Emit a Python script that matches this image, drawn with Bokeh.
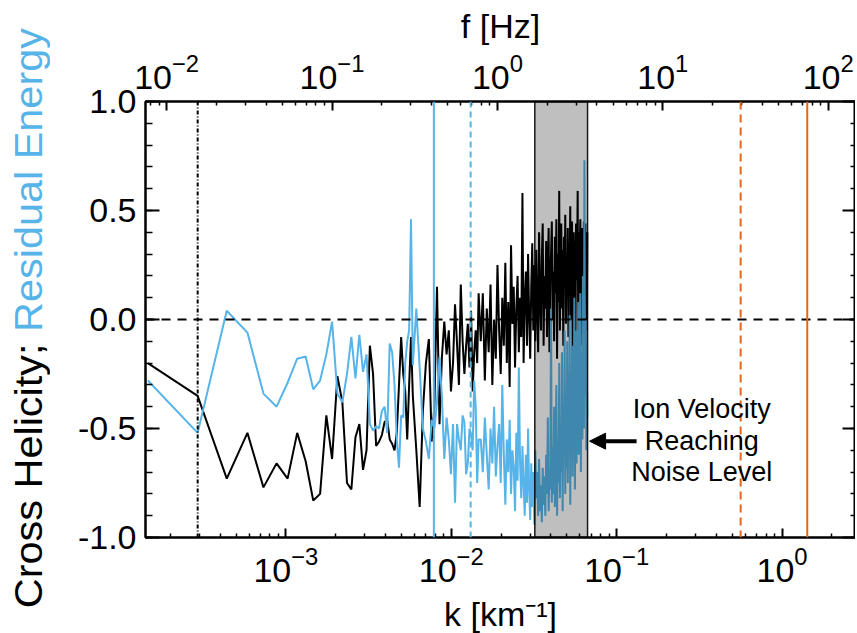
import numpy as np
from bokeh.plotting import figure
from bokeh.layouts import row
from bokeh.models import (Range1d, LogAxis, LinearAxis, FixedTicker, Span, BoxAnnotation,
                          Arrow, NormalHead, Label, CustomJSTickFormatter, Div)
from bokeh.embed import file_html
from bokeh.resources import INLINE

# ---------------- data ----------------
DK = 1.464e-4          # wavenumber resolution [km^-1]
F_PER_K = 52.6         # f [Hz] = F_PER_K * k [km^-1]
K_MIN, K_MAX = 1.417e-4, 2.78

# harmonic indices of the plotted spectral points
N_IDX = np.concatenate([np.arange(1, 41), np.arange(42, 101, 2), np.arange(103, 455, 3)])

cross_helicity_lo = [
    -0.20, -0.35, -0.73, -0.52, -0.77, -0.66, -0.73, -0.52, -0.65, -0.83,
    -0.80, -0.44, -0.64, -0.26, -0.38, -0.75, -0.78, -0.54, -0.48, -0.69,
    -0.60, -0.12, -0.25, -0.58, -0.56, -0.53, -0.47, -0.46, -0.55, -0.57,
    -0.60, -0.52, -0.30, -0.08, -0.25, -0.33, -0.55, -0.30, -0.08, -0.35]
cross_helicity_mid = [
    -0.60, -0.86, -0.42, -0.20, -0.09, -0.56, -0.40, 0.15, -0.48, -0.17,
    -0.01, -0.16, -0.05, -0.33, -0.20, 0.07, -0.11, -0.30, 0.16, -0.10,
    -0.25, -0.12, -0.02, -0.22, 0.04, -0.33, -0.15, -0.05, -0.20, 0.12]
cross_helicity_hi = [
    -0.10, 0.12, -0.28, 0.05, -0.15, 0.16, -0.30, 0.00, -0.18, 0.25,
    -0.05, -0.25, 0.10, -0.12, 0.26, -0.20, 0.08, -0.31, 0.34, -0.02,
    0.15, -0.22, 0.05, 0.20, -0.15, 0.10, -0.08, 0.58, -0.20, 0.10,
    0.22, -0.12, 0.30, 0.02, -0.18, 0.15, 0.35, -0.05, 0.25, -0.10,
    0.32, 0.05, -0.15, 0.40, 0.10, -0.05, 0.28, 0.44, -0.12, 0.20,
    0.05, 0.36, -0.08, 0.25, 0.42, -0.15, 0.18, 0.30, 0.45, 0.00,
    0.22, -0.10, 0.38, 0.12, 0.46, -0.18, 0.30, 0.08, 0.59, -0.05,
    0.25, 0.44, 0.05, 0.32, -0.12, 0.38, 0.15, 0.48, -0.02, 0.28,
    0.10, 0.42, -0.08, 0.35, 0.20, 0.52, 0.00, 0.30, 0.45, -0.15,
    0.22, 0.40, 0.08, 0.36, -0.10, 0.44, 0.18, 0.30, 0.59, -0.05,
    0.40, 0.12, 0.33, 0.46, -0.12, 0.28, 0.42, 0.05, 0.38, 0.20,
    0.45, -0.08, 0.30, 0.44, 0.10, 0.35, -0.05, 0.40]

residual_energy_lo = [
    -0.28, -0.52, 0.04, -0.06, -0.34, -0.40, -0.29, -0.18, -0.17, -0.32,
    -0.28, -0.16, -0.01, -0.34, -0.38, -0.25, -0.08, -0.27, -0.07, -0.24,
    -0.16, -0.48, -0.51, -0.49, -0.50, -0.42, -0.40, -0.52, -0.11, -0.15,
    -0.30, -0.55, -0.68, -0.44, -0.45, -0.20, -0.10, -0.05, 0.46, -0.21]
residual_energy_mid = [
    0.05, -0.22, -0.50, -0.56, -0.64, -0.46, -0.50, -0.38, -0.17, -0.36,
    -0.64, -0.45, -0.55, -0.71, -0.48, -0.84, -0.48, -0.55, -0.60, -0.44,
    -0.47, -0.71, -0.66, -0.50, -0.53, -0.60, -0.28, -0.40, -0.75, -0.55]
residual_energy_hi = [
    -0.55, -0.70, -0.45, -0.62, -0.78, -0.50, -0.66, -0.40, -0.72, -0.58,
    -0.48, -0.75, -0.30, -0.62, -0.85, -0.55, -0.70, -0.46, -0.80, -0.60,
    -0.68, -0.88, -0.52, -0.74, -0.22, -0.66, -0.82, -0.58, -0.76, -0.90,
    -0.62, -0.84, -0.50, -0.78, -0.92, -0.66, -0.86, -0.70, -0.94, -0.60,
    -0.82, -0.70, -0.90, -0.64, -0.88, -0.76, -0.93, -0.68, -0.85, -0.72,
    -0.90, -0.62, -0.80, -0.45, -0.88, -0.70, -0.78, 0.05, -0.84, -0.58,
    -0.80, -0.40, -0.86, -0.66, -0.30, -0.90, -0.55, -0.75, -0.20, -0.82,
    -0.50, -0.70, -0.15, -0.88, -0.45, -0.62, -0.05, -0.80, -0.35, -0.68,
    -0.10, -0.75, -0.40, -0.58, 0.02, -0.85, -0.30, -0.60, -0.12, -0.72,
    -0.25, -0.55, 0.10, -0.78, -0.35, -0.05, -0.66, -0.20, -0.50, 0.08,
    -0.62, -0.28, -0.45, 0.12, -0.70, -0.15, -0.38, -0.55, 0.20, -0.40,
    -0.50, 0.73, -0.10, -0.35, 0.00, -0.60, -0.25, -0.45]

cross_helicity = cross_helicity_lo + cross_helicity_mid + cross_helicity_hi
residual_energy = residual_energy_lo + residual_energy_mid + residual_energy_hi
k_vals = DK * N_IDX

# reference markers (k in km^-1)
K_DASHDOT = 2.93e-4
K_BLUE_SOLID = 7.85e-3
K_BLUE_DASH = 1.31e-2
K_NOISE_BAND = (0.032, 0.0667)
K_ORANGE_DASH = 0.562
K_ORANGE_SOLID = 1.42

X_MAJOR = [1e-3, 1e-2, 1e-1, 1e0]
F_MAJOR = [1e-2, 1e-1, 1e0, 1e1, 1e2]
Y_MAJOR = [-1.0, -0.5, 0.0, 0.5, 1.0]

Y_TITLE_BLACK = "Cross Helicity;"
Y_TITLE_BLUE = "Residual Energy"

BLUE = "#56B4E9"
ORANGE = "#E2691C"
FONT = "Liberation Sans"
TITLE_W = 50
H = 633

def minors(decades):
    return [m * 10.0 ** e for e in decades for m in range(2, 10)]

# ---------------- main figure ----------------
p = figure(x_axis_type="log", x_range=Range1d(K_MIN, K_MAX), y_range=Range1d(-1, 1),
           frame_width=710, frame_height=436,
           min_border_left=145 - TITLE_W, min_border_right=0, min_border_top=101,
           min_border_bottom=95, output_backend="svg", toolbar_location=None)
p.grid.visible = False
p.outline_line_color = "black"
p.outline_line_width = 2
p.background_fill_color = "white"
p.border_fill_color = "white"

p.extra_x_ranges = {"f": Range1d(K_MIN * F_PER_K, K_MAX * F_PER_K)}

def style(ax, maj_in, min_in, fs):
    ax.axis_line_width = 2
    ax.axis_line_color = "black"
    ax.major_tick_in = maj_in
    ax.major_tick_out = 0
    ax.minor_tick_in = min_in
    ax.minor_tick_out = 0
    ax.major_tick_line_width = 2
    ax.minor_tick_line_width = 1.5
    ax.major_label_text_font = FONT
    ax.major_label_text_font_size = fs
    ax.major_label_text_color = "black"
    ax.axis_label_text_font = FONT
    ax.axis_label_text_font_style = "normal"
    ax.axis_label_text_color = "black"

xb = p.xaxis[0]
xb.ticker = FixedTicker(ticks=X_MAJOR, minor_ticks=minors(range(-4, 1)))
style(xb, 9, 4, "34px")
xb.major_label_standoff = 9
xb.axis_label = "k [km⁻¹]"
xb.axis_label_text_font_size = "34px"
xb.axis_label_standoff = 10

yl = p.yaxis[0]
yl.ticker = FixedTicker(ticks=Y_MAJOR, minor_ticks=[round(v, 1) for v in np.arange(-1.0, 1.01, 0.1)])
yl.formatter = CustomJSTickFormatter(code="return tick.toFixed(1);")
style(yl, 14, 7, "34px")
yl.major_label_standoff = 9
yl.axis_label = None

top = LogAxis(x_range_name="f")
top.ticker = FixedTicker(ticks=F_MAJOR, minor_ticks=minors(range(-3, 3)))
style(top, 9, 4, "34px")
top.major_label_standoff = 13
top.axis_label = "f [Hz]"
top.axis_label_text_font_size = "34px"
top.axis_label_standoff = 6
p.add_layout(top, "above")

right = LinearAxis()
right.ticker = FixedTicker(ticks=Y_MAJOR, minor_ticks=[round(v, 1) for v in np.arange(-1.0, 1.01, 0.1)])
right.formatter = CustomJSTickFormatter(code="return '';")
style(right, 13, 5, "0px")
right.major_label_standoff = 0
p.add_layout(right, "right")

# ---------------- data lines ----------------
p.line(k_vals, cross_helicity, line_color="black", line_width=2)
p.line(k_vals, residual_energy, line_color=BLUE, line_width=2)

# ---------------- reference lines ----------------
p.add_layout(Span(location=0, dimension="width", line_color="black", line_width=2, line_dash="9 7"))
p.add_layout(Span(location=K_DASHDOT, dimension="height", line_color="black", line_width=2,
                  line_dash="4 2 1 2"))
p.add_layout(Span(location=K_BLUE_SOLID, dimension="height", line_color=BLUE, line_width=2))
p.add_layout(Span(location=K_BLUE_DASH, dimension="height", line_color=BLUE, line_width=2,
                  line_dash="6 4"))
p.add_layout(Span(location=K_ORANGE_DASH, dimension="height", line_color=ORANGE, line_width=2,
                  line_dash="8 5"))
p.add_layout(Span(location=K_ORANGE_SOLID, dimension="height", line_color=ORANGE, line_width=2))

p.add_layout(BoxAnnotation(left=K_NOISE_BAND[0], right=K_NOISE_BAND[1], fill_color="black",
                           fill_alpha=0.25, line_color="black", line_width=1.5, line_alpha=0.9))

# ---------------- annotation ----------------
p.add_layout(Arrow(end=NormalHead(size=16, fill_color="black", line_color="black"),
                   x_start=0.132, y_start=-0.558, x_end=0.0686, y_end=-0.558,
                   line_color="black", line_width=4))
for txt, yv in [("Ion Velocity", -0.41), ("Reaching", -0.558), ("Noise Level", -0.70)]:
    p.add_layout(Label(x=0.327, y=yv, text=txt, text_align="center", text_baseline="middle",
                       text_font=FONT, text_font_size="27px", text_color="black"))

# ---------------- two-coloured y-axis title (rotated HTML text strip) ----------------
title_html = (
    f'<div style="position:relative;width:{TITLE_W}px;height:{H}px;">'
    '<div style="position:absolute;left:8px;top:52px;writing-mode:vertical-rl;'
    'transform:rotate(180deg) scale(1, 1.09);font-family:\'Liberation Sans\',Arial,sans-serif;'
    'font-size:38px;line-height:42px;white-space:nowrap;color:black;">'
    f'{Y_TITLE_BLACK} <span style="color:{BLUE};">{Y_TITLE_BLUE}</span></div></div>'
)
t = Div(text=title_html, width=TITLE_W, height=H, margin=0)

layout = row(t, p, spacing=0)
open("out.html", "w").write(file_html(layout, INLINE))
